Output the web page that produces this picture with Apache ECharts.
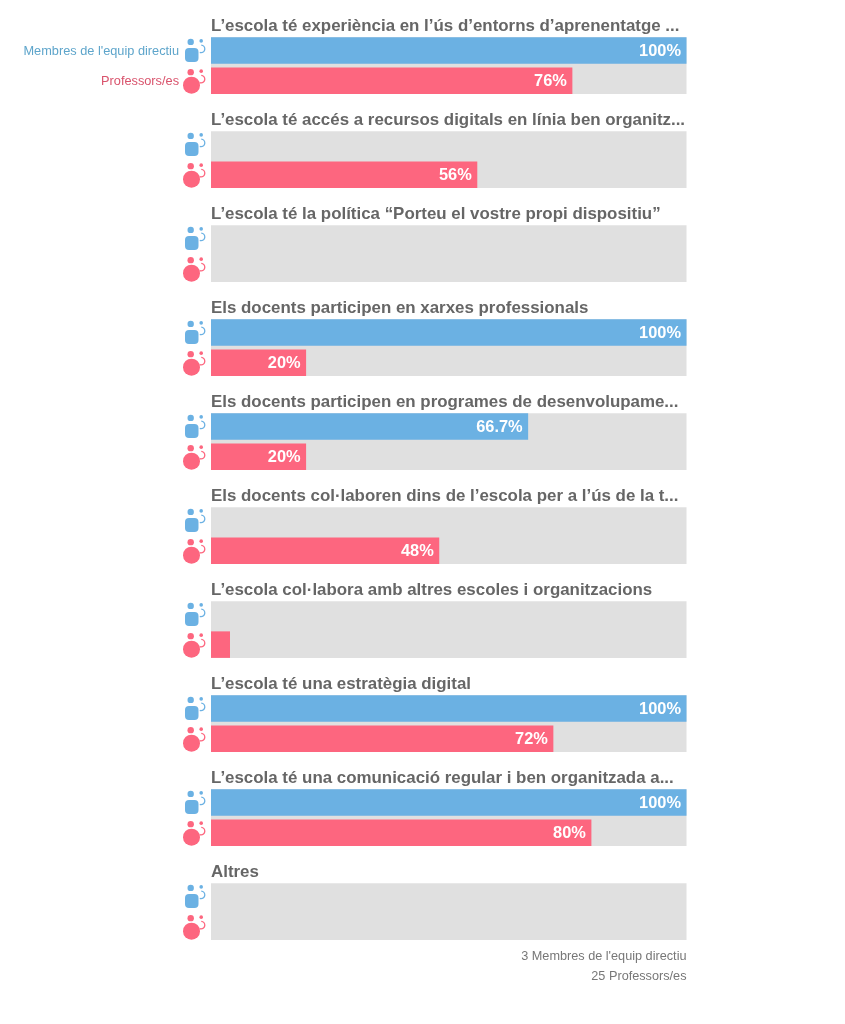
<!DOCTYPE html>
<html>
<head>
<meta charset="utf-8">
<style>html,body{margin:0;padding:0;background:#fff}#c{width:845px;height:1024px}</style>
<script src="https://cdn.jsdelivr.net/npm/echarts@6/dist/echarts.min.js"></script>
</head>
<body>
<div id="c"></div>
<script>
const questions = [
  "L’escola té experiència en l’ús d’entorns d’aprenentatge ...",
  "L’escola té accés a recursos digitals en línia ben organitz...",
  "L’escola té la política “Porteu el vostre propi dispositiu”",
  "Els docents participen en xarxes professionals",
  "Els docents participen en programes de desenvolupame...",
  "Els docents col·laboren dins de l’escola per a l’ús de la t...",
  "L’escola col·labora amb altres escoles i organitzacions",
  "L’escola té una estratègia digital",
  "L’escola té una comunicació regular i ben organitzada a...",
  "Altres"
];
const groups = ["Membres de l'equip directiu", "Professors/es"];
const leaders = [100, 0, 0, 100, 66.7, 0, 0, 100, 100, 0];
const teachers = [76, 56, 0, 20, 20, 48, 4, 72, 80, 0];
const footer = ["3 Membres de l'equip directiu", "25 Professors/es"];

const BLUE = '#6bb1e3', RED = '#fd667f', GRAY = '#e0e0e0';
const colors = [BLUE, RED], labelColors = ['#5ea5cb', '#d9536c'];
const X0 = 211, W = 475.5, Y0 = 35.25, STEP = 94, H = 60.5, BAR = 26.5;
const FONT = '"Liberation Sans", Arial, sans-serif';

function icon(params, api) {
  const idx = params.dataIndex;
  const p = api.coord([0, api.value(1)]);
  const col = colors[idx];
  const cx = p[0] - 20, cy = p[1] + 4.5;
  const body = idx === 0
    ? { type: 'rect', shape: { x: cx - 6, y: cy - 6.8, width: 13.5, height: 14, r: 4 }, style: { fill: col } }
    : { type: 'circle', shape: { cx: cx + 0.5, cy: cy, r: 8.5 }, style: { fill: col } };
  return { type: 'group', silent: true, children: [
    body,
    { type: 'circle', shape: { cx: cx - 0.3, cy: cy - 13, r: 3.2 }, style: { fill: col } },
    { type: 'circle', shape: { cx: cx + 10.2, cy: cy - 14, r: 1.8 }, style: { fill: col } },
    { type: 'arc', shape: { cx: cx + 10, cy: cy - 6, r: 3.8, startAngle: -1.5, endAngle: 1.9, clockwise: true }, style: { fill: 'none', stroke: col, lineWidth: 1.3 } }
  ] };
}

function panel(params, api) {
  const a = api.coord([0, 0]), b = api.coord([100, 1]);
  return { type: 'rect', silent: true,
    shape: { x: a[0], y: a[1] - BAR / 2, width: b[0] - a[0], height: b[1] - a[1] + BAR },
    style: { fill: GRAY } };
}

const grid = [], xAxis = [], yAxis = [], series = [], title = [];
questions.forEach((q, i) => {
  const top = Y0 + STEP * i;
  grid.push({ left: X0, top, width: W, height: H, show: false });
  xAxis.push({ gridIndex: i, type: 'value', min: 0, max: 100, show: false });
  yAxis.push({
    gridIndex: i, type: 'category', inverse: true, data: groups,
    axisLine: { show: false }, axisTick: { show: false },
    axisLabel: {
      show: i === 0, margin: 32, fontFamily: FONT, fontSize: 12.75,
      verticalAlign: 'top', lineHeight: 2,
      color: (v, idx) => labelColors[idx]
    }
  });
  series.push({
    type: 'custom', xAxisIndex: i, yAxisIndex: i, clip: false, silent: true, animation: false, z: 1,
    renderItem: panel, data: [[0, 0]], encode: { x: 0, y: 1 }
  });
  series.push({
    type: 'bar', xAxisIndex: i, yAxisIndex: i, barWidth: BAR, silent: true, animation: false, z: 2,
    data: [
      { value: leaders[i], itemStyle: { color: BLUE } },
      { value: teachers[i], itemStyle: { color: RED } }
    ],
    label: {
      show: true, position: 'insideRight', distance: 5.5, offset: [0, 1], color: '#fff',
      fontFamily: FONT, fontSize: 16.4, fontWeight: 'bold',
      formatter: p => p.value >= 10 ? p.value + '%' : ''
    }
  });
  series.push({
    type: 'custom', xAxisIndex: i, yAxisIndex: i, clip: false, silent: true, animation: false, z: 3,
    renderItem: icon, data: [[0, 0], [0, 1]], encode: { x: 0, y: 1 }
  });
  title.push({
    text: q, left: X0, top: top - 17, padding: 0,
    textStyle: { fontFamily: FONT, fontSize: 16.9, fontWeight: 'bold', color: '#666' }
  });
});
footer.forEach((t, i) => title.push({
  text: t, right: 845 - 686.5, top: 949.5 + 20 * i, padding: 0,
  textStyle: { fontFamily: FONT, fontSize: 12.7, fontWeight: 'normal', color: '#777' }
}));

echarts.init(document.getElementById('c'), null, { renderer: 'canvas' }).setOption({
  animation: false, backgroundColor: '#fff', tooltip: { show: false },
  title, grid, xAxis, yAxis, series
});
</script>
</body>
</html>
